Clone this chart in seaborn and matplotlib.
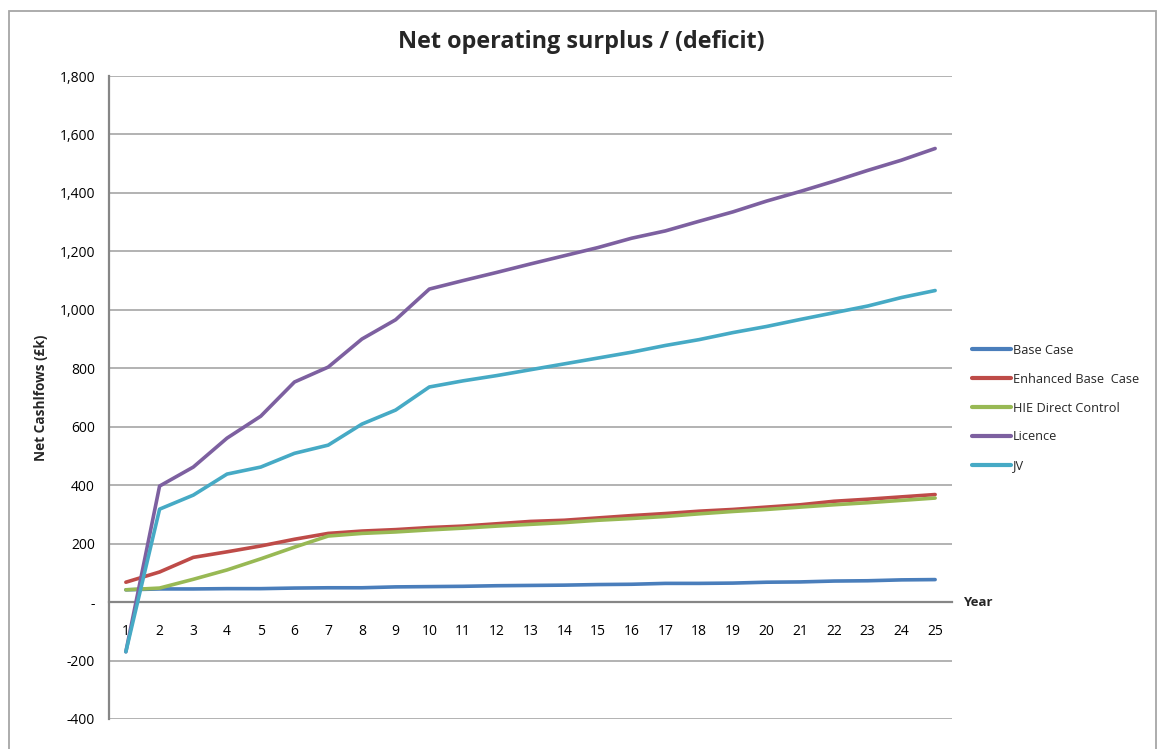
import matplotlib
matplotlib.use("Agg")
import matplotlib.pyplot as plt
from matplotlib.patches import Rectangle
from matplotlib.ticker import FixedLocator, FuncFormatter
import seaborn as sns
import pandas as pd

# Net operating surplus / (deficit) by scenario, £k
years = list(range(1, 26))
base_case = [42, 45, 45, 46, 46, 48, 49, 49, 52, 53, 54, 56, 57, 58, 60,
             61, 64, 64, 65, 68, 69, 72, 73, 76, 77]
enhanced_base_case = [68, 103, 153, 172, 192, 215, 235, 243, 248, 255, 260, 268, 276, 280, 288,
                      296, 303, 311, 317, 325, 333, 345, 352, 360, 368]
hie_direct_control = [42, 48, 78, 110, 148, 188, 226, 235, 240, 247, 253, 260, 266, 272, 280,
                      286, 293, 302, 310, 317, 325, 333, 340, 348, 356]
licence = [-170, 397, 462, 561, 636, 753, 804, 900, 966, 1071, 1100, 1128, 1157, 1185, 1213,
           1245, 1270, 1303, 1335, 1372, 1405, 1440, 1477, 1512, 1552]
jv = [-170, 318, 366, 438, 462, 509, 537, 609, 657, 736, 757, 775, 795, 815, 835,
      855, 878, 898, 922, 943, 967, 990, 1013, 1042, 1066]

series_names = ["Base Case", "Enhanced Base  Case", "HIE Direct Control", "Licence", "JV"]
series_values = [base_case, enhanced_base_case, hie_direct_control, licence, jv]
colors = ["#4a7ebb", "#be4b48", "#98b954", "#7d60a0", "#46aac5"]

df = pd.DataFrame(
    [(y, name, v) for name, vals in zip(series_names, series_values) for y, v in zip(years, vals)],
    columns=["Year", "Scenario", "Value"],
)

sns.set_theme(style="white")
plt.rcParams["font.family"] = ["Open Sans", "DejaVu Sans"]

W, H = 1164, 749
fig = plt.figure(figsize=(W / 100, H / 100), dpi=100)
ax = fig.add_axes([109 / W, 1 - 719 / H, (952 - 109) / W, (719 - 76) / H])

# outer chart frame
fig.patches.append(Rectangle((9 / W, -0.05), (1156 - 9) / W, 1.05 - 11 / H,
                             transform=fig.transFigure, fill=False,
                             edgecolor="#a6a6a6", linewidth=1.3, zorder=0))

sns.lineplot(data=df, x="Year", y="Value", hue="Scenario", hue_order=series_names,
             palette=dict(zip(series_names, colors)), linewidth=2.6, ax=ax,
             legend=True, zorder=3)

ax.set_xlim(0.5, 25.5)
ax.set_ylim(-400, 1800)

# horizontal gridlines
yticks = list(range(-400, 1801, 200))
ax.yaxis.set_major_locator(FixedLocator(yticks))
ax.yaxis.set_major_formatter(FuncFormatter(lambda v, p: "-" if v == 0 else f"{int(v):,}"))
for v in yticks:
    if v != 0:
        ax.axhline(v, color="#a6a6a6", linewidth=1.2, zorder=1)
ax.tick_params(axis="y", which="major", length=6, width=1.2, color="#868686",
               direction="out", labelsize=10, pad=4, labelcolor="#000000")

# category x axis crossing at zero
ax.spines["bottom"].set_position(("data", 0))
ax.spines["bottom"].set_color("#868686")
ax.spines["bottom"].set_linewidth(1.6)
ax.spines["bottom"].set_zorder(2)
ax.spines["left"].set_color("#868686")
ax.spines["left"].set_linewidth(1.6)
ax.spines["top"].set_visible(False)
ax.spines["right"].set_visible(False)

ax.xaxis.set_major_locator(FixedLocator(years))
ax.set_xticklabels([str(y) for y in years])
ax.xaxis.set_minor_locator(FixedLocator([y + 0.5 for y in range(1, 26)]))
ax.tick_params(axis="x", which="major", length=0, labelsize=10, pad=16, labelcolor="#000000")
ax.tick_params(axis="x", which="minor", length=5, width=1.2, color="#868686", direction="out")

ax.set_xlabel("")
ax.set_ylabel("Net Cashlfows (£k)", fontsize=9.8, fontweight="bold", labelpad=8)
ax.text(25.82, 0, "Year", fontsize=9.5, fontweight="bold", va="center", ha="left",
        transform=ax.transData, clip_on=False)

fig.text(581 / W, 1 - 42 / H, "Net operating surplus / (deficit)", fontsize=16.8,
         fontweight="bold", ha="center", va="center")

leg = ax.legend(loc="center left", bbox_to_anchor=(960 / W, 1 - 408 / H),
                bbox_transform=fig.transFigure, frameon=False, fontsize=9.2,
                handlelength=3.1, handletextpad=0.15, labelspacing=1.25)
for line in leg.get_lines():
    line.set_linewidth(3)

fig.savefig("out.png", dpi=100)
